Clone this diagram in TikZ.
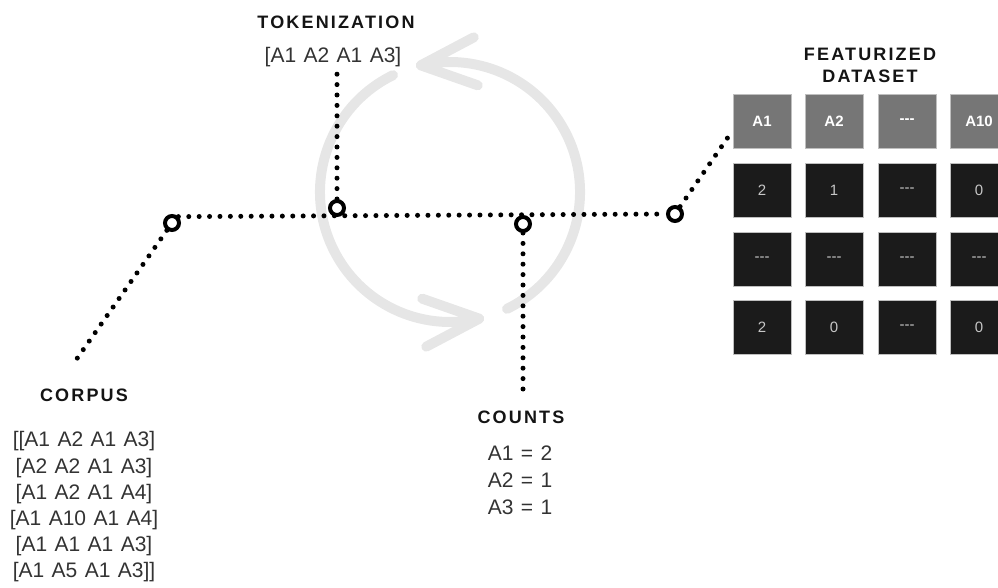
\documentclass[tikz,border=0pt]{standalone}
\usepackage{fontspec}
\setmainfont{Liberation Sans}

\definecolor{loopgray}{HTML}{E6E6E6}
\definecolor{cellgray}{HTML}{767676}
\definecolor{celldark}{HTML}{1B1B1B}
\definecolor{textgray}{HTML}{333333}

\newcommand{\tripledash}{-{}-{}-}
% wider word gaps for the token lists
\newcommand{\listfont}[1]{\fontsize{21}{#1}\selectfont\fontdimen2\font=7.4pt}

\tikzset{
    recycle/.style={loopgray, line width=10pt, line cap=round, line join=round},
    dotline/.style={line width=5pt, line cap=round, dash pattern=on 0pt off 10.4pt},
    ring/.style={circle, draw, line width=4pt, fill=white, minimum size=14pt, inner sep=0pt},
    heading/.style={font=\fontsize{18}{22}\selectfont\bfseries\addfontfeatures{LetterSpace=12}, text=black!92, align=center, inner sep=0pt},
    listtext/.style={font=\listfont{26.2}, text=textgray, align=center, inner sep=0pt},
    cellbox/.style={draw=black!25, line width=0.8pt, minimum width=58pt, minimum height=54pt, inner sep=0pt},
    headcell/.style={cellbox, fill=cellgray, text=white, font=\fontsize{15}{18}\selectfont\bfseries},
    datacell/.style={cellbox, fill=celldark, text=black!22, font=\fontsize{15}{18}\selectfont}
}

\begin{document}
\begin{tikzpicture}[x=1pt, y=-1pt]
        \useasboundingbox (0,0) rectangle (998,588);

        % two half loops, each ending in an open chevron
        \foreach \turn in {0,180} {
            \begin{scope}[rotate around={\turn:(450,192)}]
                \draw[recycle] (450,192) ++(64:130) arc[start angle=64, end angle=-103, radius=130]
                    -- ++(53,-28) ++(-53,28) -- ++(57,20);
            \end{scope}
        }

        % pipeline stops
        \node[ring] (r1) at (172,223) {};
        \node[ring] (r2) at (337,208) {};
        \node[ring] (r3) at (523,224) {};
        \node[ring] (r4) at (675,214) {};

        % feature table
        \foreach \c/\x/\txt in {1/762/A1, 2/834/A2, 3/907/\tripledash, 4/979/A10}
            \node[headcell] (c1\c) at (\x,121) {\txt};
        \foreach \r/\y/\va/\vb/\vc/\vd in {2/190/2/1/\tripledash/0,
                3/259/\tripledash/\tripledash/\tripledash/\tripledash,
                4/327/2/0/\tripledash/0} {
            \node[datacell] (c\r1) at (762,\y) {\va};
            \node[datacell] (c\r2) at (834,\y) {\vb};
            \node[datacell] (c\r3) at (907,\y) {\vc};
            \node[datacell] (c\r4) at (979,\y) {\vd};
        }

        % labels
        \node[heading] (tokhead) at (336,22) {TOKENIZATION};
        \node[listtext] (toklist) at (333,57) {[A1 A2 A1 A3]};
        \node[heading] (corphead) at (84,395) {CORPUS};
        \node[listtext] (corplist) at (84,507) {[[A1 A2 A1 A3]\\ {[A2 A2 A1 A3]}\\ {[A1 A2 A1 A4]}\\
            {[A1 A10 A1 A4]}\\ {[A1 A1 A1 A3]}\\ {[A1 A5 A1 A3]]}};
        \node[heading] (counthead) at (521,417) {COUNTS};
        \node[listtext, font=\listfont{27}] (countlist) at (520,480) {A1 = 2\\ A2 = 1\\ A3 = 1};
        \node[heading] (feathead) at (870,65) {FEATURIZED\\ DATASET};

        % free ends of the dotted links
        \coordinate (corpusend) at (76,360);
        \coordinate (tokend) at (337,67);
        \coordinate (countend) at (523,393);

        \draw[dotline] (r1.north east) -- (r4.west);
        \draw[dotline] (r1) -- (corpusend);
        \draw[dotline] (r2) -- (tokend);
        \draw[dotline] (r3) -- (countend);
        \draw[dotline] (r4) -- (c11.198);
    \end{tikzpicture}
\end{document}
